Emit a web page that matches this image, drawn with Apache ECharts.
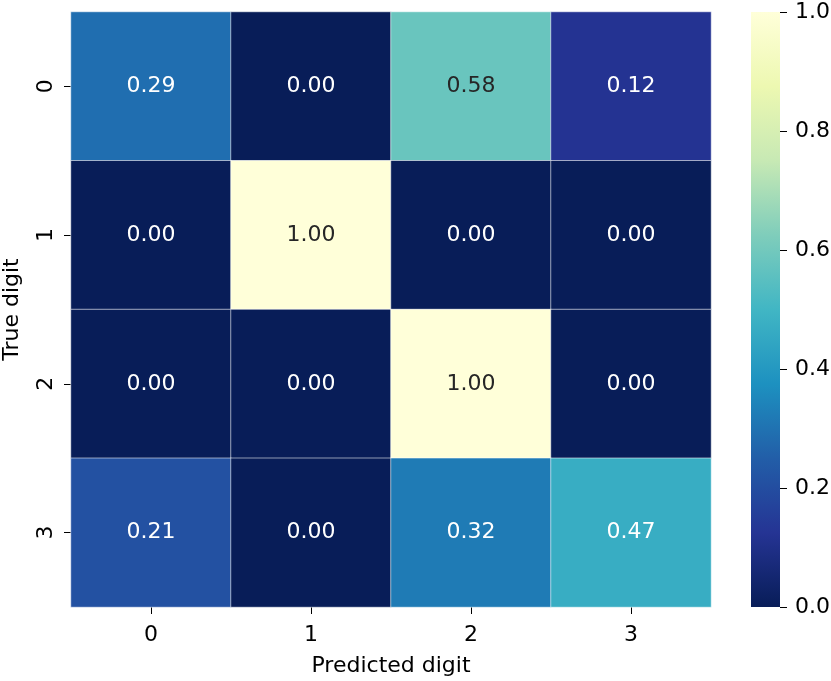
<!DOCTYPE html>
<html>
<head>
<meta charset="utf-8">
<script src="https://cdn.jsdelivr.net/npm/echarts@6/dist/echarts.min.js"></script>
<style>
  html, body { margin: 0; padding: 0; background: #fff; }
  #main { width: 831px; height: 681px; }
</style>
</head>
<body>
<div id="main"></div>
<script>
// 混淆矩阵数据
const predictedLabels = ['0', '1', '2', '3'];
const trueLabels = ['0', '1', '2', '3'];
const row0 = [0.29, 0.00, 0.58, 0.12];
const row1 = [0.00, 1.00, 0.00, 0.00];
const row2 = [0.00, 0.00, 1.00, 0.00];
const row3 = [0.21, 0.00, 0.32, 0.47];
const colorbarTicks = [0, 0.2, 0.4, 0.6, 0.8, 1.0];

// YlGnBu，从 0 到 1
const ylgnbu = ['#081d58', '#253494', '#225ea8', '#1d91c0', '#41b6c4',
  '#7fcdbb', '#c7e9b4', '#edf8b1', '#ffffd9'];

const rows = [row0, row1, row2, row3];
const cells = [];
rows.forEach(function (row, y) {
  row.forEach(function (v, x) {
    cells.push({
      value: [x, y, v],
      label: { color: v > 0.5 ? '#262626' : '#ffffff' }
    });
  });
});

const font = 'DejaVu Sans';
const fs = 22;
const chart = echarts.init(document.getElementById('main'));
chart.setOption({
  animation: false,
  textStyle: { fontFamily: font },
  grid: [
    { left: 71, top: 12, width: 640, height: 595, containLabel: false, outerBoundsMode: 'none' },
    { left: 751, top: 12, width: 29, height: 595, containLabel: false, outerBoundsMode: 'none' }
  ],
  xAxis: [
    {
      gridIndex: 0,
      type: 'category',
      data: predictedLabels,
      name: 'Predicted digit',
      nameLocation: 'middle',
      nameGap: 48,
      nameTextStyle: { fontSize: fs, color: '#000', fontFamily: font },
      axisLine: { show: false },
      axisTick: { show: true, alignWithLabel: true, length: 7, lineStyle: { color: '#000' } },
      axisLabel: { fontSize: fs, color: '#000', margin: 17, fontFamily: font },
      splitLine: { show: false }
    },
    {
      gridIndex: 1,
      type: 'category',
      data: ['cb'],
      show: false
    }
  ],
  yAxis: [
    {
      gridIndex: 0,
      type: 'category',
      data: trueLabels,
      inverse: true,
      name: 'True digit',
      nameLocation: 'middle',
      nameGap: 48,
      nameTextStyle: { fontSize: fs, color: '#000', fontFamily: font },
      axisLine: { show: false },
      axisTick: { show: true, alignWithLabel: true, length: 7, lineStyle: { color: '#000' } },
      axisLabel: { fontSize: fs, color: '#000', margin: 14, rotate: 90, fontFamily: font },
      splitLine: { show: false }
    },
    {
      gridIndex: 1,
      type: 'value',
      min: 0,
      max: 1,
      interval: 0.2,
      position: 'right',
      axisLine: { show: false },
      axisTick: { show: true, length: 7, lineStyle: { color: '#000' } },
      axisLabel: {
        fontSize: fs, color: '#000', margin: 15, fontFamily: font,
        formatter: function (v) { return colorbarTicks.indexOf(v) >= 0 ? v.toFixed(1) : ''; }
      },
      splitLine: { show: false }
    }
  ],
  visualMap: {
    show: false,
    min: 0,
    max: 1,
    dimension: 2,
    seriesIndex: 0,
    inRange: { color: ylgnbu }
  },
  series: [
    {
      type: 'heatmap',
      xAxisIndex: 0,
      yAxisIndex: 0,
      data: cells,
      itemStyle: { borderColor: 'rgba(255,255,255,0.55)', borderWidth: 1 },
      label: {
        show: true,
        fontSize: fs,
        fontFamily: font,
        formatter: function (p) { return p.value[2].toFixed(2); }
      },
      emphasis: { disabled: true }
    },
    {
      // 色条
      type: 'bar',
      xAxisIndex: 1,
      yAxisIndex: 1,
      data: [1],
      barWidth: '100%',
      silent: true,
      itemStyle: {
        color: new echarts.graphic.LinearGradient(0, 1, 0, 0,
          ylgnbu.map(function (c, i) { return { offset: i / (ylgnbu.length - 1), color: c }; }))
      }
    }
  ]
});
</script>
</body>
</html>
